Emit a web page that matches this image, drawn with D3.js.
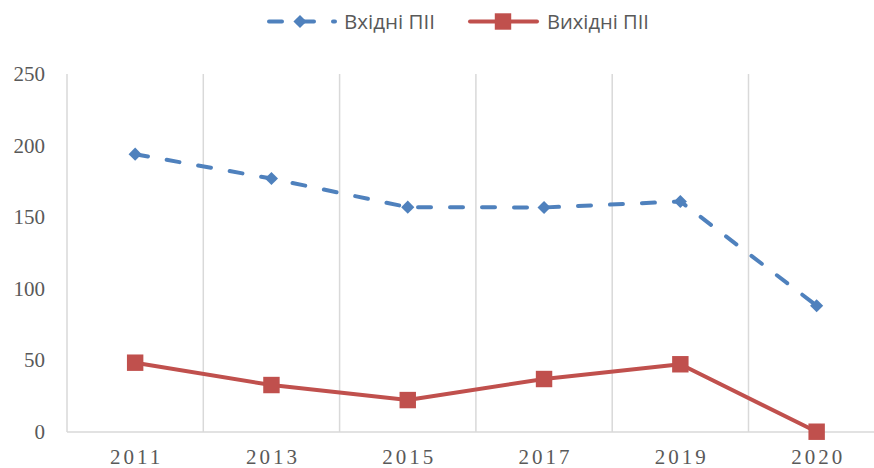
<!DOCTYPE html>
<html>
<head>
<meta charset="utf-8">
<script src="https://cdn.jsdelivr.net/npm/d3@7"></script>
<style>
  body { margin: 0; background: #fff; }
  svg { display: block; }
</style>
</head>
<body>
<svg id="chart" width="874" height="468"></svg>
<script>
// chart data
const years = ["2011", "2013", "2015", "2017", "2019", "2020"];
const inflow = [194, 177, 157, 156.8, 161, 88.2];   // Вхідні ПІІ
const outflow = [48.4, 32.8, 22.3, 37, 47.3, 0.2];  // Вихідні ПІІ
const yTicks = [0, 50, 100, 150, 200, 250];
const seriesNames = ["Вхідні ПІІ", "Вихідні ПІІ"];

const width = 874, height = 468;
const plotLeft = 67, plotTop = 74, plotBottom = 432;
const bandW = 136.3;

const svg = d3.select("#chart");

const x = d3.scaleBand().domain(years).range([plotLeft, plotLeft + bandW * years.length]).padding(0);
const y = d3.scaleLinear().domain([0, 250]).range([plotBottom, plotTop]);

const grid = svg.append("g").attr("id", "grid");
const axes = svg.append("g").attr("id", "axes");
const lines = svg.append("g").attr("id", "lines");
const legend = svg.append("g").attr("id", "legend");

// vertical gridlines at category boundaries
grid.selectAll("line")
  .data(years)
  .join("line")
  .attr("x1", d => x(d) + x.bandwidth())
  .attr("x2", d => x(d) + x.bandwidth())
  .attr("y1", plotTop)
  .attr("y2", plotBottom)
  .attr("stroke", "#d9d9d9")
  .attr("stroke-width", 1.5);

// axis lines
axes.append("line")
  .attr("x1", plotLeft).attr("x2", plotLeft).attr("y1", plotTop).attr("y2", plotBottom)
  .attr("stroke", "#d9d9d9").attr("stroke-width", 1.5);
axes.append("line")
  .attr("x1", plotLeft).attr("x2", width).attr("y1", plotBottom).attr("y2", plotBottom)
  .attr("stroke", "#d9d9d9").attr("stroke-width", 1.5);

axes.append("g").selectAll("text")
  .data(yTicks)
  .join("text")
  .attr("x", 45)
  .attr("y", d => y(d) + 7)
  .attr("text-anchor", "end")
  .attr("font-family", "'Liberation Serif', 'Times New Roman', serif")
  .attr("font-size", 21)
  .attr("fill", "#595959")
  .text(d => d);

axes.append("g").selectAll("text")
  .data(years)
  .join("text")
  .attr("x", d => x(d) + x.bandwidth() / 2 + 1.5)
  .attr("y", 464)
  .attr("text-anchor", "middle")
  .attr("font-family", "'Liberation Serif', 'Times New Roman', serif")
  .attr("font-size", 21)
  .attr("letter-spacing", 3)
  .attr("fill", "#595959")
  .text(d => d);

const cx = d => x(d) + x.bandwidth() / 2;
const line = d3.line().x(d => cx(d.year)).y(d => y(d.v));

const inData = years.map((yr, i) => ({ year: yr, v: inflow[i] }));
const outData = years.map((yr, i) => ({ year: yr, v: outflow[i] }));

const blue = "#4f81bd", red = "#c0504d";
const diamond = d3.symbol(d3.symbolDiamond2, 110);
const square = d3.symbol(d3.symbolSquare, 270);

// inflow series (dashed, diamonds)
lines.append("path")
  .attr("d", line(inData))
  .attr("fill", "none")
  .attr("stroke", blue)
  .attr("stroke-width", 4)
  .attr("stroke-dasharray", "13 19")
  .attr("stroke-linecap", "round");
lines.append("g").selectAll("path")
  .data(inData)
  .join("path")
  .attr("transform", d => `translate(${cx(d.year)},${y(d.v)})`)
  .attr("d", diamond)
  .attr("fill", blue);

// outflow series (solid, squares)
lines.append("path")
  .attr("d", line(outData))
  .attr("fill", "none")
  .attr("stroke", red)
  .attr("stroke-width", 4)
  .attr("stroke-linejoin", "round");
lines.append("g").selectAll("path")
  .data(outData)
  .join("path")
  .attr("transform", d => `translate(${cx(d.year)},${y(d.v)})`)
  .attr("d", square)
  .attr("fill", red);

// legend
const ly = 21.5;
const legendFont = "'Open Sans', 'Noto Sans', sans-serif";
const lg1 = legend.append("g");
lg1.append("line")
  .attr("x1", 269).attr("x2", 335).attr("y1", ly).attr("y2", ly)
  .attr("stroke", blue).attr("stroke-width", 4)
  .attr("stroke-linecap", "round").attr("stroke-dasharray", "13 19");
lg1.append("path").attr("transform", `translate(300,${ly})`).attr("d", diamond).attr("fill", blue);
lg1.append("text")
  .attr("x", 344).attr("y", 28.5)
  .attr("font-family", legendFont)
  .attr("font-size", 20)
  .attr("textLength", 91).attr("lengthAdjust", "spacingAndGlyphs")
  .attr("fill", "#595959")
  .text(seriesNames[0]);

const lg2 = legend.append("g");
lg2.append("line")
  .attr("x1", 470).attr("x2", 537).attr("y1", ly).attr("y2", ly)
  .attr("stroke", red).attr("stroke-width", 4).attr("stroke-linecap", "round");
lg2.append("path").attr("transform", `translate(503,${ly})`).attr("d", square).attr("fill", red);
lg2.append("text")
  .attr("x", 547).attr("y", 28.5)
  .attr("font-family", legendFont)
  .attr("font-size", 20)
  .attr("textLength", 102).attr("lengthAdjust", "spacingAndGlyphs")
  .attr("fill", "#595959")
  .text(seriesNames[1]);
</script>
</body>
</html>
